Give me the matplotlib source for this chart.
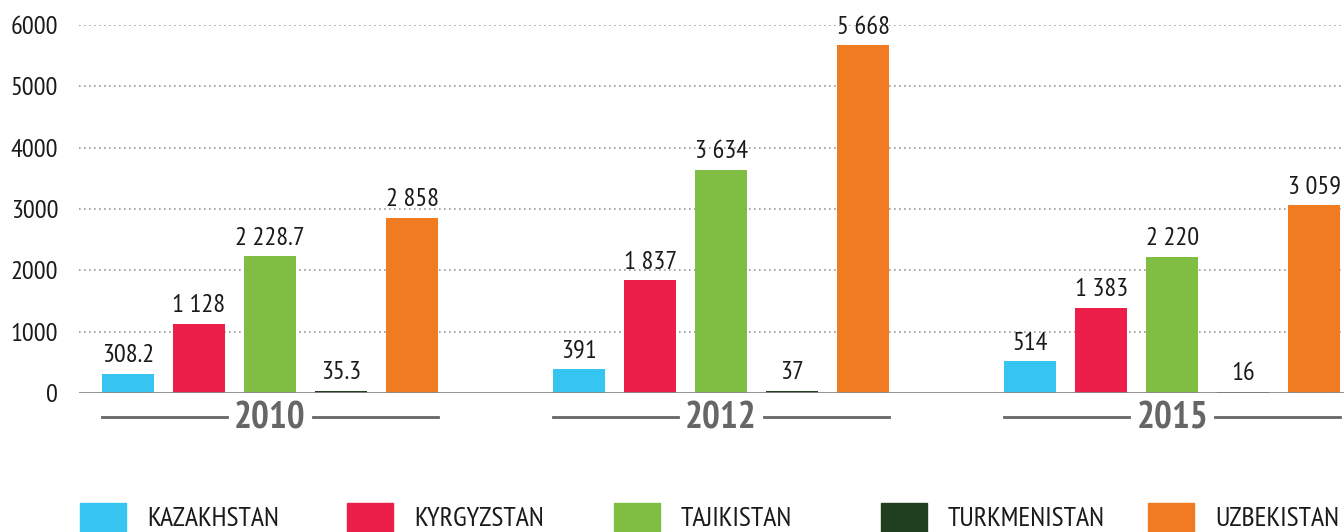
import matplotlib.pyplot as plt
from matplotlib.patches import Rectangle

# data
years = ["2010", "2012", "2015"]
countries = ["KAZAKHSTAN", "KYRGYZSTAN", "TAJIKISTAN", "TURKMENISTAN", "UZBEKISTAN"]
colors = ["#36c5f0", "#ec1f4b", "#7fbe42", "#1f3f1e", "#f07b20"]
kazakhstan = [308.2, 391, 514]
kyrgyzstan = [1128, 1837, 1383]
tajikistan = [2228.7, 3634, 2220]
turkmenistan = [35.3, 37, 16]
uzbekistan = [2858, 5668, 3059]
series = [kazakhstan, kyrgyzstan, tajikistan, turkmenistan, uzbekistan]
yticks = [0, 1000, 2000, 3000, 4000, 5000, 6000]

plt.rcParams['font.family'] = ['PT Sans Narrow', 'Roboto Condensed',
                               'Liberation Sans Narrow', 'DejaVu Sans']


def fmt(v):
    if float(v).is_integer():
        return f"{int(v):,}".replace(",", " ")
    return f"{v:,.1f}".replace(",", " ")


fig = plt.figure(figsize=(13.44, 5.32), dpi=100)
ax = fig.add_axes([79 / 1344, 139 / 532, 1 - 79 / 1344, 368 / 532])

step = 0.1574
width = 0.1153
for i, vals in enumerate(series):
    xs = [g + (i - 2) * step for g in range(len(years))]
    ax.bar(xs, vals, width=width, color=colors[i], zorder=3)
    for x, v in zip(xs, vals):
        ax.text(x, v + 110, fmt(v), ha="center", va="bottom", fontsize=19,
                color="#1a1a1a", clip_on=False)

# year labels with lines either side
for g, yr in enumerate(years):
    left = g - 2 * step - width / 2
    right = g + 2 * step + width / 2
    ax.plot([left, g - 0.095], [-385, -385], color="#666666", lw=2, clip_on=False)
    ax.plot([g + 0.095, right], [-385, -385], color="#666666", lw=2, clip_on=False)
    ax.text(g, -430, yr, ha="center", va="center", fontsize=27,
            fontweight="bold", color="#666666", clip_on=False)

ax.set_xlim(-0.4235, 2.381)
ax.set_ylim(0, 6000)
ax.set_yticks(yticks)
ax.set_yticklabels([str(t) for t in yticks], fontsize=19, color="#1a1a1a")
ax.tick_params(axis="y", length=0, pad=15)
ax.set_xticks([])
for t in yticks[1:]:
    ax.axhline(t, color="#9a9a9a", lw=1.2, linestyle=(0, (1, 2)), zorder=1)
ax.axhline(0, color="#8a8a8a", lw=2, zorder=4)
for s in ax.spines.values():
    s.set_visible(False)

# legend
for i, (name, c) in enumerate(zip(countries, colors)):
    x0 = (80 + i * 267) / 1344
    fig.patches.append(Rectangle((x0, 0), 46 / 1344, 29 / 532, color=c,
                                 transform=fig.transFigure, figure=fig))
    fig.text(x0 + 67 / 1344, 13 / 532, name, fontsize=20, color="#1a1a1a",
             va="center", ha="left")

fig.savefig("out.png", dpi=100)
